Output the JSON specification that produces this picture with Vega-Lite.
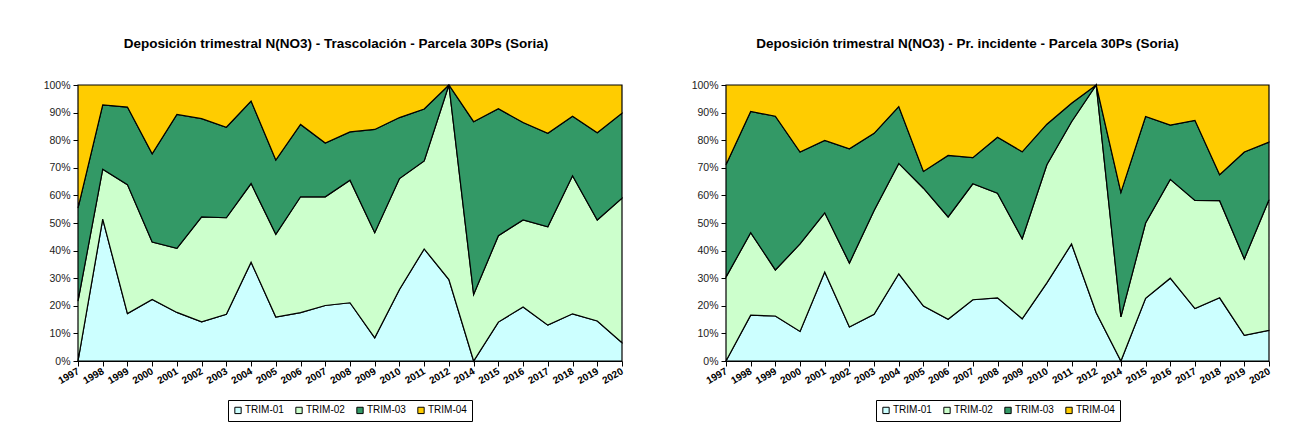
{
  "$schema": "https://vega.github.io/schema/vega-lite/v6.json",
  "background": "white",
  "padding": {"left": 43, "top": 36, "right": 5, "bottom": 5},
  "spacing": 66,
  "datasets": {
    "T": [
      {"year": "1997", "TRIM-01": 0, "TRIM-02": 21.7, "TRIM-03": 33.7, "TRIM-04": 44.6},
      {"year": "1998", "TRIM-01": 51.4, "TRIM-02": 18.1, "TRIM-03": 23.3, "TRIM-04": 7.2},
      {"year": "1999", "TRIM-01": 17.2, "TRIM-02": 46.7, "TRIM-03": 28.1, "TRIM-04": 8.0},
      {"year": "2000", "TRIM-01": 22.3, "TRIM-02": 20.8, "TRIM-03": 32.0, "TRIM-04": 24.9},
      {"year": "2001", "TRIM-01": 17.6, "TRIM-02": 23.2, "TRIM-03": 48.5, "TRIM-04": 10.7},
      {"year": "2002", "TRIM-01": 14.2, "TRIM-02": 38.0, "TRIM-03": 35.6, "TRIM-04": 12.2},
      {"year": "2003", "TRIM-01": 16.9, "TRIM-02": 35.0, "TRIM-03": 32.8, "TRIM-04": 15.3},
      {"year": "2004", "TRIM-01": 35.8, "TRIM-02": 28.5, "TRIM-03": 29.9, "TRIM-04": 5.8},
      {"year": "2005", "TRIM-01": 15.9, "TRIM-02": 30.0, "TRIM-03": 26.9, "TRIM-04": 27.2},
      {"year": "2006", "TRIM-01": 17.5, "TRIM-02": 42.0, "TRIM-03": 26.2, "TRIM-04": 14.3},
      {"year": "2007", "TRIM-01": 20.1, "TRIM-02": 39.4, "TRIM-03": 19.5, "TRIM-04": 21.0},
      {"year": "2008", "TRIM-01": 21.1, "TRIM-02": 44.4, "TRIM-03": 17.5, "TRIM-04": 17.0},
      {"year": "2009", "TRIM-01": 8.4, "TRIM-02": 38.1, "TRIM-03": 37.4, "TRIM-04": 16.1},
      {"year": "2010", "TRIM-01": 25.9, "TRIM-02": 40.2, "TRIM-03": 22.1, "TRIM-04": 11.8},
      {"year": "2011", "TRIM-01": 40.6, "TRIM-02": 31.9, "TRIM-03": 18.8, "TRIM-04": 8.7},
      {"year": "2012", "TRIM-01": 29.5, "TRIM-02": 70.5, "TRIM-03": 0, "TRIM-04": 0},
      {"year": "2014", "TRIM-01": 0, "TRIM-02": 24.1, "TRIM-03": 62.6, "TRIM-04": 13.3},
      {"year": "2015", "TRIM-01": 14.1, "TRIM-02": 31.3, "TRIM-03": 46.0, "TRIM-04": 8.6},
      {"year": "2016", "TRIM-01": 19.6, "TRIM-02": 31.5, "TRIM-03": 35.3, "TRIM-04": 13.6},
      {"year": "2017", "TRIM-01": 13.0, "TRIM-02": 35.6, "TRIM-03": 33.9, "TRIM-04": 17.5},
      {"year": "2018", "TRIM-01": 17.1, "TRIM-02": 50.0, "TRIM-03": 21.6, "TRIM-04": 11.3},
      {"year": "2019", "TRIM-01": 14.5, "TRIM-02": 36.6, "TRIM-03": 31.6, "TRIM-04": 17.3},
      {"year": "2020", "TRIM-01": 6.6, "TRIM-02": 52.4, "TRIM-03": 30.8, "TRIM-04": 10.2}
    ],
    "P": [
      {"year": "1997", "TRIM-01": 0, "TRIM-02": 30.4, "TRIM-03": 40.7, "TRIM-04": 28.9},
      {"year": "1998", "TRIM-01": 16.6, "TRIM-02": 29.9, "TRIM-03": 43.9, "TRIM-04": 9.6},
      {"year": "1999", "TRIM-01": 16.3, "TRIM-02": 16.7, "TRIM-03": 55.7, "TRIM-04": 11.3},
      {"year": "2000", "TRIM-01": 10.7, "TRIM-02": 31.7, "TRIM-03": 33.3, "TRIM-04": 24.3},
      {"year": "2001", "TRIM-01": 32.2, "TRIM-02": 21.5, "TRIM-03": 26.2, "TRIM-04": 20.1},
      {"year": "2002", "TRIM-01": 12.3, "TRIM-02": 23.2, "TRIM-03": 41.4, "TRIM-04": 23.1},
      {"year": "2003", "TRIM-01": 16.9, "TRIM-02": 37.6, "TRIM-03": 28.0, "TRIM-04": 17.5},
      {"year": "2004", "TRIM-01": 31.6, "TRIM-02": 40.0, "TRIM-03": 20.6, "TRIM-04": 7.8},
      {"year": "2005", "TRIM-01": 19.9, "TRIM-02": 42.7, "TRIM-03": 6.1, "TRIM-04": 31.3},
      {"year": "2006", "TRIM-01": 15.1, "TRIM-02": 37.1, "TRIM-03": 22.3, "TRIM-04": 25.5},
      {"year": "2007", "TRIM-01": 22.2, "TRIM-02": 42.0, "TRIM-03": 9.5, "TRIM-04": 26.3},
      {"year": "2008", "TRIM-01": 22.9, "TRIM-02": 37.9, "TRIM-03": 20.3, "TRIM-04": 18.9},
      {"year": "2009", "TRIM-01": 15.3, "TRIM-02": 29.0, "TRIM-03": 31.5, "TRIM-04": 24.2},
      {"year": "2010", "TRIM-01": 28.3, "TRIM-02": 42.8, "TRIM-03": 14.7, "TRIM-04": 14.2},
      {"year": "2011", "TRIM-01": 42.4, "TRIM-02": 44.3, "TRIM-03": 6.7, "TRIM-04": 6.6},
      {"year": "2012", "TRIM-01": 17.5, "TRIM-02": 82.5, "TRIM-03": 0, "TRIM-04": 0},
      {"year": "2014", "TRIM-01": 0, "TRIM-02": 16.0, "TRIM-03": 45.1, "TRIM-04": 38.9},
      {"year": "2015", "TRIM-01": 22.7, "TRIM-02": 27.3, "TRIM-03": 38.6, "TRIM-04": 11.4},
      {"year": "2016", "TRIM-01": 30.0, "TRIM-02": 35.8, "TRIM-03": 19.7, "TRIM-04": 14.5},
      {"year": "2017", "TRIM-01": 19.0, "TRIM-02": 39.2, "TRIM-03": 29.0, "TRIM-04": 12.8},
      {"year": "2018", "TRIM-01": 22.9, "TRIM-02": 35.2, "TRIM-03": 9.4, "TRIM-04": 32.5},
      {"year": "2019", "TRIM-01": 9.3, "TRIM-02": 27.7, "TRIM-03": 38.7, "TRIM-04": 24.3},
      {"year": "2020", "TRIM-01": 11.1, "TRIM-02": 47.3, "TRIM-03": 20.9, "TRIM-04": 20.7}
    ]
  },
  "hconcat": [
    {
      "data": {"name": "T"},
      "width": 544,
      "height": 276,
      "title": {"text": "Deposición trimestral N(NO3) - Trascolación - Parcela 30Ps (Soria)", "dx": -14},
      "transform": [{"fold": ["TRIM-01", "TRIM-02", "TRIM-03", "TRIM-04"], "as": ["trim", "v"]}],
      "mark": {"type": "area", "stroke": "black", "strokeWidth": 1.2, "interpolate": "linear"},
      "encoding": {
        "x": {"field": "year", "type": "ordinal", "scale": {"type": "point", "padding": 0}, "title": null},
        "y": {"field": "v", "type": "quantitative", "stack": "normalize", "title": null,
              "axis": {"format": ".0%", "values": [0, 0.1, 0.2, 0.3, 0.4, 0.5, 0.6, 0.7, 0.8, 0.9, 1]}},
        "color": {"field": "trim", "type": "nominal", "title": null,
                  "scale": {"domain": ["TRIM-01", "TRIM-02", "TRIM-03", "TRIM-04"], "range": ["#CCFFFF", "#CCFFCC", "#339966", "#FFCC00"]}},
        "order": {"field": "trim", "sort": "ascending"}
      }
    },
    {
      "data": {"name": "P"},
      "width": 543,
      "height": 276,
      "title": {"text": "Deposición trimestral N(NO3) - Pr. incidente - Parcela 30Ps (Soria)", "dx": -30},
      "transform": [{"fold": ["TRIM-01", "TRIM-02", "TRIM-03", "TRIM-04"], "as": ["trim", "v"]}],
      "mark": {"type": "area", "stroke": "black", "strokeWidth": 1.2, "interpolate": "linear"},
      "encoding": {
        "x": {"field": "year", "type": "ordinal", "scale": {"type": "point", "padding": 0}, "title": null},
        "y": {"field": "v", "type": "quantitative", "stack": "normalize", "title": null,
              "axis": {"format": ".0%", "values": [0, 0.1, 0.2, 0.3, 0.4, 0.5, 0.6, 0.7, 0.8, 0.9, 1]}},
        "color": {"field": "trim", "type": "nominal", "title": null,
                  "scale": {"domain": ["TRIM-01", "TRIM-02", "TRIM-03", "TRIM-04"], "range": ["#CCFFFF", "#CCFFCC", "#339966", "#FFCC00"]}},
        "order": {"field": "trim", "sort": "ascending"}
      }
    }
  ],
  "resolve": {"legend": {"color": "independent"}},
  "config": {
    "font": "Liberation Sans",
    "view": {"stroke": null},
    "title": {"font": "Liberation Sans", "fontSize": 13.5, "fontWeight": "bold", "color": "black", "anchor": "middle", "offset": 30},
    "axis": {"domainColor": "black", "tickColor": "black", "tickSize": 5, "grid": false, "labelColor": "#222", "labelFont": "Liberation Sans"},
    "axisY": {"labelFontSize": 10.5, "labelPadding": 3},
    "axisX": {"labelAngle": -30, "labelAlign": "right", "labelBaseline": "middle", "labelFontSize": 10, "labelFontWeight": "bold", "labelPadding": 4, "labelColor": "black"},
    "legend": {"orient": "bottom", "direction": "horizontal", "layout": {"bottom": {"anchor": "middle"}}, "symbolType": "square", "symbolSize": 40, "symbolStrokeColor": "black", "symbolStrokeWidth": 1, "labelFont": "Liberation Sans", "labelFontSize": 10, "labelColor": "black", "strokeColor": "black", "padding": 5, "columnPadding": 9, "labelOffset": 2, "offset": 14}
  }
}
